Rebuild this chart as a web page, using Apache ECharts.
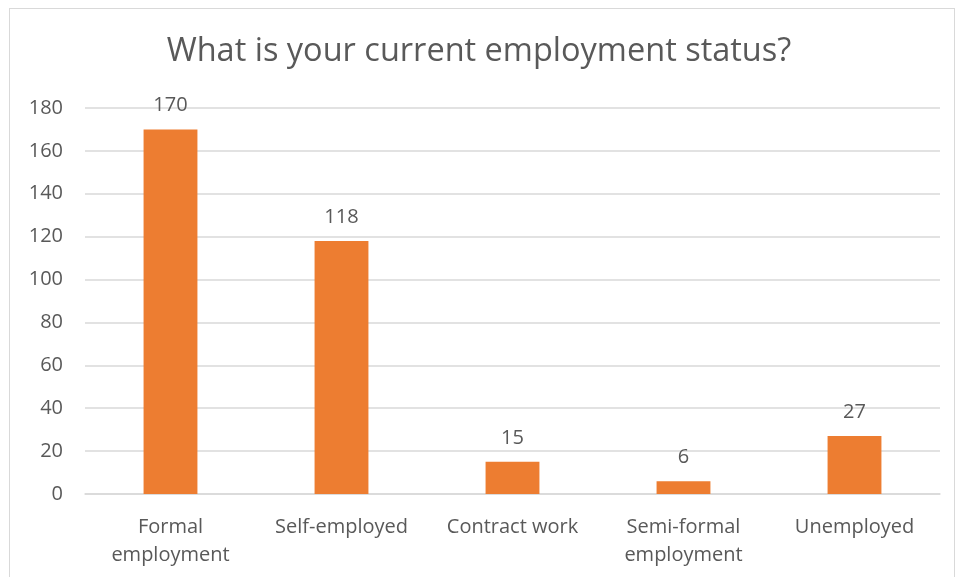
<!DOCTYPE html>
<html>
<head>
<meta charset="utf-8">
<script src="https://cdn.jsdelivr.net/npm/echarts@6/dist/echarts.min.js"></script>
<style>
  html, body { margin: 0; padding: 0; background: #fff; }
  #frame { position: absolute; left: 9px; top: 8px; width: 946px; height: 575px; border: 1px solid #d9d9d9; box-sizing: border-box; }
  #chart { width: 958px; height: 577px; position: absolute; left: 0; top: 0; }
</style>
</head>
<body>
<div id="frame"></div>
<div id="chart"></div>
<script>
const chartTitle = 'What is your current employment status?';
const categories = ['Formal\nemployment', 'Self-employed', 'Contract work', 'Semi-formal\nemployment', 'Unemployed'];
const counts = [170, 118, 15, 6, 27];
const yTicks = { min: 0, max: 180, interval: 20 };

const textColor = '#595959';
const fontFamily = '"Open Sans", "Noto Sans", sans-serif';

const chart = echarts.init(document.getElementById('chart'), null, { renderer: 'canvas' });
chart.setOption({
  animation: false,
  title: {
    text: chartTitle,
    left: 'center',
    top: 30,
    textStyle: { color: textColor, fontSize: 32.5, fontWeight: 'normal', fontFamily }
  },
  grid: { left: 85, right: 18, top: 108, bottom: 83, containLabel: false },
  xAxis: {
    type: 'category',
    data: categories,
    axisLine: { lineStyle: { color: '#d9d9d9', width: 1.5 } },
    axisTick: { show: false },
    axisLabel: { color: textColor, fontSize: 20, fontFamily, margin: 19, lineHeight: 28, interval: 0 }
  },
  yAxis: {
    type: 'value',
    min: yTicks.min,
    max: yTicks.max,
    interval: yTicks.interval,
    axisLine: { show: false },
    axisTick: { show: false },
    splitLine: { lineStyle: { color: '#d9d9d9', width: 1.5 } },
    axisLabel: { color: textColor, fontSize: 20, fontFamily, margin: 22 }
  },
  series: [{
    type: 'bar',
    data: counts,
    barWidth: '31.5%',
    itemStyle: { color: '#ed7d31' },
    label: { show: true, position: 'top', distance: 14, color: textColor, fontSize: 20, fontFamily }
  }]
});
</script>
</body>
</html>
